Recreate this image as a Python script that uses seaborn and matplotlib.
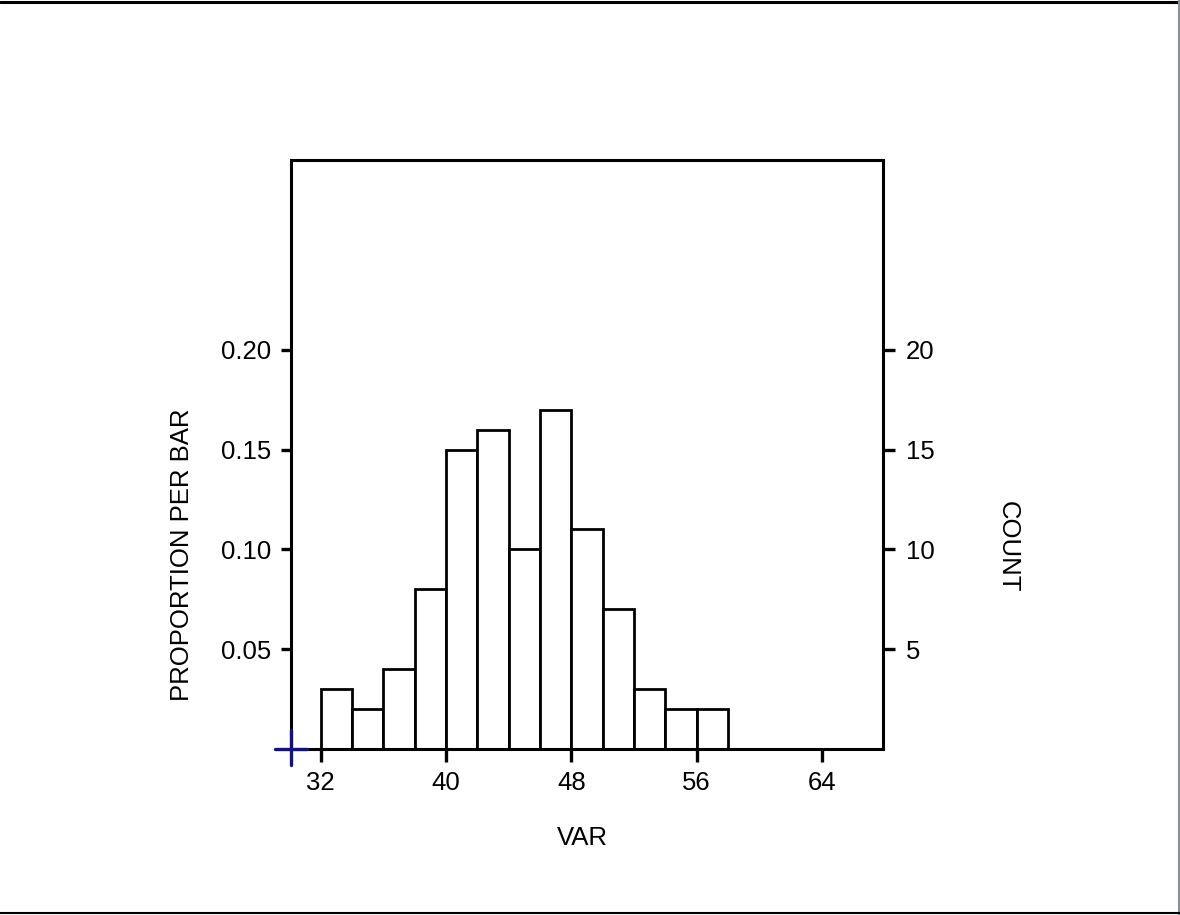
import numpy as np
import pandas as pd
import matplotlib
matplotlib.use('Agg')
import matplotlib.pyplot as plt
from matplotlib.lines import Line2D
import seaborn as sns

# histogram bins (width 2) and counts per bar, total 100
bin_edges = [32, 34, 36, 38, 40, 42, 44, 46, 48, 50, 52, 54, 56, 58]
counts = [3, 2, 4, 8, 15, 16, 10, 17, 11, 7, 3, 2, 2]
n_total = 100

x_ticks = [32, 40, 48, 56, 64]
prop_ticks = [0.05, 0.10, 0.15, 0.20]
count_ticks = [5, 10, 15, 20]


def main():
    sns.set_style('white')
    plt.rcParams['font.family'] = ['Liberation Sans', 'DejaVu Sans']
    plt.rcParams['text.color'] = 'black'
    plt.rcParams['axes.labelcolor'] = 'black'
    fs = 18.5

    edges = np.array(bin_edges, dtype=float)
    df = pd.DataFrame({'VAR': (edges[:-1] + edges[1:]) / 2,
                       'prop': np.array(counts) / n_total})

    fig = plt.figure(figsize=(11.8, 9.15), dpi=100)
    ax = fig.add_axes([0.2466, 0.1814, 0.5017, 0.6437])

    sns.histplot(data=df, x='VAR', weights='prop', binwidth=2,
                 binrange=(bin_edges[0], bin_edges[-1]), stat='count',
                 color='white', edgecolor='black', linewidth=2, alpha=1, ax=ax)

    ax.set_xlim(30.1, 67.9)
    ax.set_ylim(0, 0.295)
    ax.set_xticks(x_ticks)
    ax.set_xticklabels([str(v) for v in x_ticks])
    ax.set_yticks(prop_ticks)
    ax.set_yticklabels([f'{v:.2f}' for v in prop_ticks])
    ax.tick_params(axis='x', direction='out', length=9.5, width=2.4, pad=6,
                   labelsize=fs, colors='black', bottom=True)
    ax.tick_params(axis='y', direction='out', length=7.5, width=2.4, pad=7,
                   labelsize=fs, colors='black', left=True)
    for s in ax.spines.values():
        s.set_visible(True)
        s.set_color('black')
        s.set_linewidth(2.2)

    ax.set_xlabel('VAR', fontsize=fs, va='center', color='black')
    ax.xaxis.set_label_coords(0.493, -0.151)
    ax.set_ylabel('PROPORTION PER BAR', fontsize=fs, va='center', color='black')
    ax.yaxis.set_label_coords(-0.184, 0.329)

    ax2 = ax.twinx()
    ax2.set_ylim(0, 0.295 * n_total)
    ax2.set_yticks(count_ticks)
    ax2.set_yticklabels([str(v) for v in count_ticks])
    ax2.tick_params(axis='y', direction='out', length=8.5, width=2.4, pad=8,
                    labelsize=fs, colors='black', right=True)
    for s in ax2.spines.values():
        s.set_visible(False)
    ax2.set_ylabel('COUNT', fontsize=fs, rotation=270, va='center', color='black')
    ax2.yaxis.set_label_coords(1.211, 0.343)

    # small blue cross at the origin
    blue = '#12127a'
    ax.plot([-0.027, 0.027], [0, 0], transform=ax.transAxes, color=blue,
            lw=2.4, clip_on=False, zorder=10)
    ax.plot([0, 0], [-0.027, 0.032], transform=ax.transAxes, color=blue,
            lw=2.4, clip_on=False, zorder=10)

    # window border lines
    fig.add_artist(Line2D([0, 1], [1 - 1.5 / 915, 1 - 1.5 / 915], color='black', lw=2.2))
    fig.add_artist(Line2D([1178.5 / 1180, 1178.5 / 1180], [0, 1], color='#8a9099', lw=1.5))
    fig.add_artist(Line2D([0, 1], [2.5 / 915, 2.5 / 915], color='black', lw=1.5))

    fig.savefig('out.png', dpi=100, facecolor='white')


if __name__ == '__main__':
    main()
